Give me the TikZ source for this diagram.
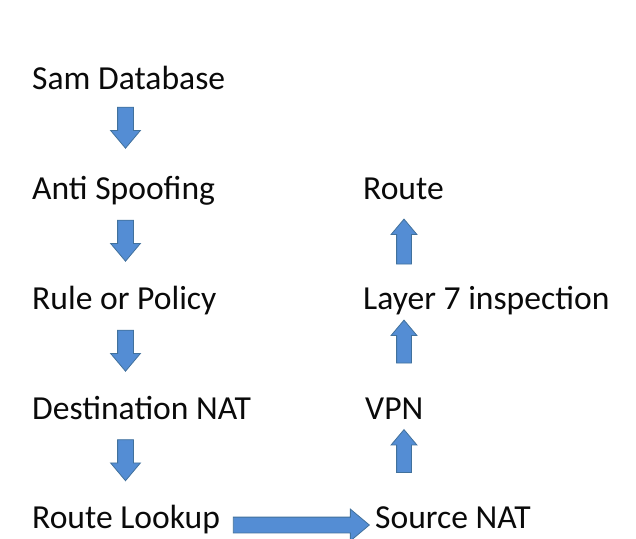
\documentclass[tikz,border=0pt]{standalone}
\usepackage{fontspec}
\setmainfont{Carlito}
\usetikzlibrary{shapes.arrows,calc}
\definecolor{arrowfill}{RGB}{84,141,212}
\definecolor{arrowedge}{RGB}{65,113,156}
\definecolor{stagetext}{RGB}{10,10,10}

\begin{document}
\begin{tikzpicture}[
  x=1pt, y=-1pt,
  stage/.style={anchor=base west, inner sep=0pt, text=stagetext,
    font=\fontsize{33.6}{40}\selectfont},
  blockarrow/.style={single arrow, draw=arrowedge, fill=arrowfill,
    line width=.8pt, inner xsep=0pt, inner ysep=7.5pt,
    single arrow head extend=7pt, single arrow tip angle=80,
    minimum height=#1},
  blockarrow/.default=41pt,
  uparrow/.style={blockarrow=#1, rotate=90, inner ysep=7pt,
    single arrow head extend=5.5pt},
  uparrow/.default=43pt
]
\useasboundingbox (0,0) rectangle (636,538);
\fill[white] (0,0) rectangle (636,538);
\coordinate (leftcol) at (125.5,0);
\coordinate (rightcol) at (404,0);
\node[stage] (sam) at (32,89) {Sam Database};
\node[stage] (anti) at (32,199) {Anti Spoofing};
\node[stage] (rule) at (32,309) {Rule or Policy};
\node[stage] (dnat) at (32,419) {Destination NAT};
\node[stage] (lookup) at (32,528) {Route Lookup};
\node[stage] (route) at (363,199) {Route};
\node[stage] (layer) at (363,309) {Layer 7 inspection};
\node[stage] (vpn) at (365,419) {VPN};
\node[stage] (snat) at (375,528) {Source NAT};
\node[blockarrow, rotate=-90] (a1)
  at ($(sam.base -| leftcol)!.5!(anti.base -| leftcol)+(0,-21)$) {};
\node[blockarrow, rotate=-90] (a2)
  at ($(anti.base -| leftcol)!.5!(rule.base -| leftcol)+(0,-18)$) {};
\node[blockarrow, rotate=-90] (a3)
  at ($(rule.base -| leftcol)!.5!(dnat.base -| leftcol)+(0,-18)$) {};
\node[blockarrow, rotate=-90] (a4)
  at ($(dnat.base -| leftcol)!.5!(lookup.base -| leftcol)+(0,-18)$) {};
\node[blockarrow=136pt, inner ysep=7.5pt, single arrow head extend=8pt] (a5)
  at ($(lookup.base east)!.5!(snat.base west)+(-1,-3)$) {};
\node[uparrow] (a6)
  at ($(snat.base -| rightcol)!.5!(vpn.base -| rightcol)+(0,-18)$) {};
\node[uparrow] (a7)
  at ($(vpn.base -| rightcol)!.5!(layer.base -| rightcol)+(0,-18)$) {};
\node[uparrow=45pt, xshift=-6pt] (a8)
  at ($(layer.base -| rightcol)!.5!(route.base -| rightcol)+(0,-14)$) {};
\end{tikzpicture}
\end{document}
